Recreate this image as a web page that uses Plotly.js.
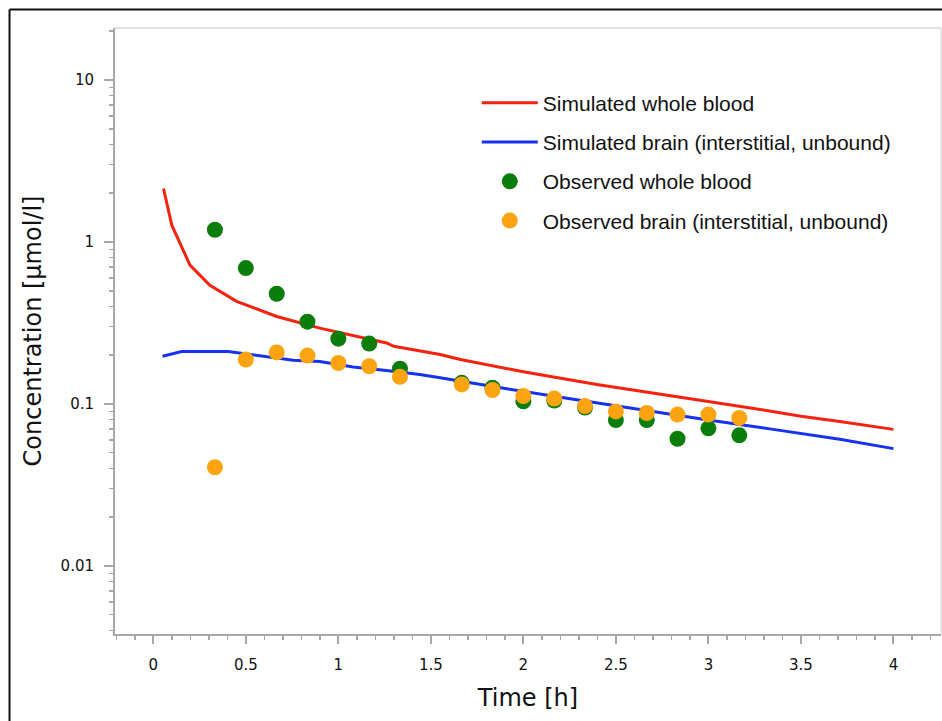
<!DOCTYPE html>
<html>
<head>
<meta charset="utf-8">
<script src="https://cdn.plot.ly/plotly-3.0.1.min.js"></script>
<style>
html,body{margin:0;padding:0;background:#fff;}
#chart{width:942px;height:721px;}
</style>
</head>
<body>
<div id="chart"></div>
<script>
// Simulated whole blood (red line)
const simBloodTime = [0.055, 0.10, 0.198, 0.306, 0.45, 0.667, 0.90, 1.10, 1.26, 1.30, 1.55, 1.66, 2.0, 2.397, 2.685, 2.99, 3.28, 3.50, 3.71, 4.0];
const simBloodConc = [2.14, 1.27, 0.72, 0.54, 0.43, 0.347, 0.294, 0.261, 0.238, 0.227, 0.202, 0.188, 0.158, 0.132, 0.117, 0.104, 0.0925, 0.084, 0.078, 0.0697];

// Simulated brain (interstitial, unbound) (blue line)
const simBrainTime = [0.05, 0.153, 0.405, 0.61, 0.757, 0.90, 1.08, 1.26, 1.44, 1.55, 1.66, 1.91, 2.27, 2.56, 2.99, 3.35, 3.71, 4.0];
const simBrainConc = [0.197, 0.211, 0.211, 0.197, 0.186, 0.183, 0.169, 0.161, 0.152, 0.145, 0.138, 0.124, 0.107, 0.0948, 0.080, 0.0697, 0.0605, 0.053];

// Observed whole blood (green points)
const obsBloodTime = [0.333, 0.5, 0.667, 0.833, 1.0, 1.167, 1.333, 1.667, 1.833, 2.0, 2.167, 2.333, 2.5, 2.667, 2.833, 3.0, 3.167];
const obsBloodConc = [1.19, 0.69, 0.479, 0.322, 0.253, 0.236, 0.165, 0.135, 0.126, 0.104, 0.105, 0.095, 0.0795, 0.0795, 0.061, 0.0707, 0.064];

// Observed brain (interstitial, unbound) (orange points)
const obsBrainTime = [0.333, 0.5, 0.667, 0.833, 1.0, 1.167, 1.333, 1.667, 1.833, 2.0, 2.167, 2.333, 2.5, 2.667, 2.833, 3.0, 3.167];
const obsBrainConc = [0.0407, 0.188, 0.208, 0.199, 0.179, 0.171, 0.147, 0.132, 0.122, 0.112, 0.108, 0.097, 0.090, 0.088, 0.086, 0.086, 0.082];

// Axis ticks
const xTickVals = [0, 0.5, 1, 1.5, 2, 2.5, 3, 3.5, 4];
const xTickText = ["0", "0.5", "1", "1.5", "2", "2.5", "3", "3.5", "4"];
const yTickVals = [0.01, 0.1, 1, 10];
const yTickText = ["0.01", "0.1", "1", "10"];
const yMinorVals = [0.004,0.005,0.006,0.007,0.008,0.009,
  0.02,0.03,0.04,0.05,0.06,0.07,0.08,0.09,
  0.2,0.3,0.4,0.5,0.6,0.7,0.8,0.9,
  2,3,4,5,6,7,8,9,20];

const names = ["Simulated whole blood", "Simulated brain (interstitial, unbound)", "Observed whole blood", "Observed brain (interstitial, unbound)"];

const axisGray = "#a8a8a8";
const tickFont = {family: "DejaVu Sans, Verdana, sans-serif", size: 15, color: "#111"};
const titleFont = {family: "DejaVu Sans, Verdana, sans-serif", size: 24, color: "#111"};

const traces = [
  {x: simBloodTime, y: simBloodConc, mode: "lines", name: names[0], legendgroup: "a",
   line: {color: "#f5220f", width: 3}},
  {x: simBrainTime, y: simBrainConc, mode: "lines", name: names[1], legendgroup: "b",
   line: {color: "#1632f0", width: 3}},
  {x: obsBloodTime, y: obsBloodConc, mode: "markers", name: names[2], legendgroup: "c",
   marker: {color: "#0a7d0a", size: 16, line: {width: 0}}},
  {x: obsBrainTime, y: obsBrainConc, mode: "markers", name: names[3], legendgroup: "d",
   marker: {color: "#fca310", size: 16, line: {width: 0}}}
];

const layout = {
  width: 942, height: 721,
  margin: {l: 115, r: 1, t: 28, b: 87, pad: 0},
  paper_bgcolor: "#ffffff", plot_bgcolor: "#ffffff",
  showlegend: true,
  legend: {
    x: 0.438, y: 0.91, xanchor: "left", yanchor: "top",
    font: {family: "Liberation Sans, Arial, sans-serif", size: 21, color: "#111"},
    bgcolor: "rgba(0,0,0,0)", borderwidth: 0,
    tracegroupgap: 9, itemwidth: 56, traceorder: "grouped"
  },
  xaxis: {
    range: [-0.207, 4.257],
    tickmode: "array", tickvals: xTickVals, ticktext: xTickText,
    ticks: "outside", ticklen: 8, tickwidth: 2, tickcolor: axisGray,
    minor: {dtick: 0.1, tick0: 0, ticks: "outside", ticklen: 4, tickwidth: 1.5, tickcolor: axisGray, showgrid: false},
    showline: true, linecolor: axisGray, linewidth: 2,
    showgrid: false, zeroline: false,
    tickfont: tickFont, ticklabelstandoff: 8,
    title: {text: "Time [h]", font: titleFont, standoff: 16}
  },
  yaxis: {
    type: "log",
    range: [-2.42, 1.321],
    tickmode: "array", tickvals: yTickVals, ticktext: yTickText,
    ticks: "outside", ticklen: 9, tickwidth: 2, tickcolor: axisGray,
    minor: {tickmode: "array", tickvals: yMinorVals, ticks: "outside", ticklen: 4, tickwidth: 1.5, tickcolor: axisGray, showgrid: false},
    showline: true, linecolor: axisGray, linewidth: 2,
    showgrid: false, zeroline: false,
    tickfont: tickFont, ticklabelstandoff: 7,
    title: {text: "Concentration [µmol/l]", font: titleFont, standoff: 12}
  },
  shapes: [
    {type: "line", xref: "paper", yref: "paper", x0: 0, x1: 1, y0: 1, y1: 1, line: {color: "#e2e2e2", width: 2}},
    {type: "line", xref: "paper", yref: "paper", x0: 1, x1: 1, y0: 0, y1: 1, line: {color: "#e2e2e2", width: 1.5}},
    {type: "line", xref: "paper", yref: "paper", x0: -0.1277, x1: 1.002, y0: 1.0305, y1: 1.0305, line: {color: "#111", width: 2}},
    {type: "line", xref: "paper", yref: "paper", x0: -0.1277, x1: -0.1277, y0: 1.0305, y1: -0.15, line: {color: "#111", width: 2}}
  ]
};

Plotly.newPlot("chart", traces, layout, {displayModeBar: false, staticPlot: true});
</script>
</body>
</html>
